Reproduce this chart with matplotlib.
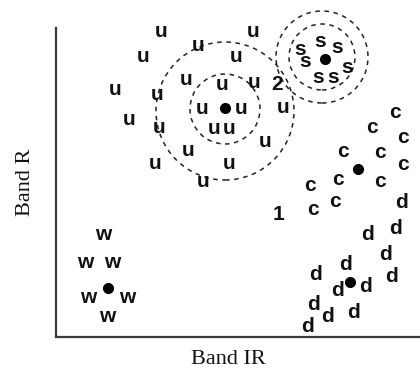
import matplotlib
matplotlib.use("Agg")
import matplotlib.pyplot as plt
from matplotlib.patches import Circle
from matplotlib.transforms import offset_copy

# --- data (axes units: 0..364 horizontally, 0..309 vertically) ---
u_x = [105, 197, 87, 142, 180, 59, 130, 166, 198, 101, 146, 185, 73, 103, 158, 173, 227, 209, 132, 99, 173, 147]
u_y = [305, 305, 280, 291, 280, 247, 257, 252, 254, 242, 228, 228, 217, 209, 208, 208, 229, 195, 186, 173, 173, 155]
s_x = [244, 264, 281, 249, 291, 262, 277]
s_y = [287, 295, 289, 275, 269, 259, 259]
c_x = [339, 316, 347, 287, 324, 347, 282, 324, 254, 279, 257]
c_y = [224, 209, 199, 185, 184, 172, 157, 155, 151, 135, 127]
d_x = [346, 339, 311, 329, 289, 259, 336, 309, 281, 257, 272, 297, 251]
d_y = [137, 110, 104, 85, 75, 64, 62, 52, 49, 34, 22, 27, 12]
w_x = [47, 29, 56, 32, 71, 51]
w_y = [102, 74, 74, 39, 39, 20]

center_x = [169, 269, 302, 294, 52]
center_y = [229, 278, 168, 55, 49]

label_text = ["1", "2"]
label_x = [222, 221]
label_y = [125, 255]

ring_x = [169, 169, 266, 266]
ring_y = [228, 226, 280, 280]
ring_r = [35, 69, 33, 46]

W, H = 420, 374
fig = plt.figure(figsize=(W / 100, H / 100), dpi=100)
ax_l, ax_b, ax_w, ax_h = 56, 374 - 337, 364, 309
ax = fig.add_axes([ax_l / W, ax_b / H, ax_w / W, ax_h / H])
ax.set_xlim(0, 364)
ax.set_ylim(0, 309)
for s in ["top", "right"]:
    ax.spines[s].set_visible(False)
for s in ["left", "bottom"]:
    ax.spines[s].set_color("#3a3a3a")
    ax.spines[s].set_linewidth(1.6)
ax.set_xticks([])
ax.set_yticks([])

fs = 15
font = dict(family="Liberation Sans", weight="bold", fontsize=fs, color="#111111")
xh_off = offset_copy(ax.transData, fig=fig, x=0, y=-0.26 * fs, units="points")
cap_off = offset_copy(ax.transData, fig=fig, x=0, y=-0.36 * fs, units="points")

def put(xs, ys, ch, tr):
    for x, y in zip(xs, ys):
        ax.text(x, y, ch, ha="center", va="baseline", transform=tr, clip_on=False, **font)

put(u_x, u_y, "u", xh_off)
put(s_x, s_y, "s", xh_off)
put(c_x, c_y, "c", xh_off)
put(w_x, w_y, "w", xh_off)
put(d_x, d_y, "d", cap_off)
for t, x, y in zip(label_text, label_x, label_y):
    ax.text(x, y, t, ha="center", va="baseline", transform=cap_off, clip_on=False, **font)

ax.plot(center_x, center_y, "o", color="black", markersize=7, linestyle="none",
        zorder=5, clip_on=False)

for x, y, r in zip(ring_x, ring_y, ring_r):
    ax.add_patch(Circle((x, y), r, fill=False, edgecolor="#222222", linewidth=1.1,
                        linestyle=(0, (3, 3)), clip_on=False))

fig.text(25 / W, 1 - 182 / H, "Band R", rotation=90, ha="center", va="center",
         family="Liberation Serif", fontsize=16, color="#111111")
fig.text(228 / W, 1 - 360 / H, "Band IR", ha="center", va="center",
         family="Liberation Serif", fontsize=16, color="#111111")

fig.savefig("out.png", dpi=100)
